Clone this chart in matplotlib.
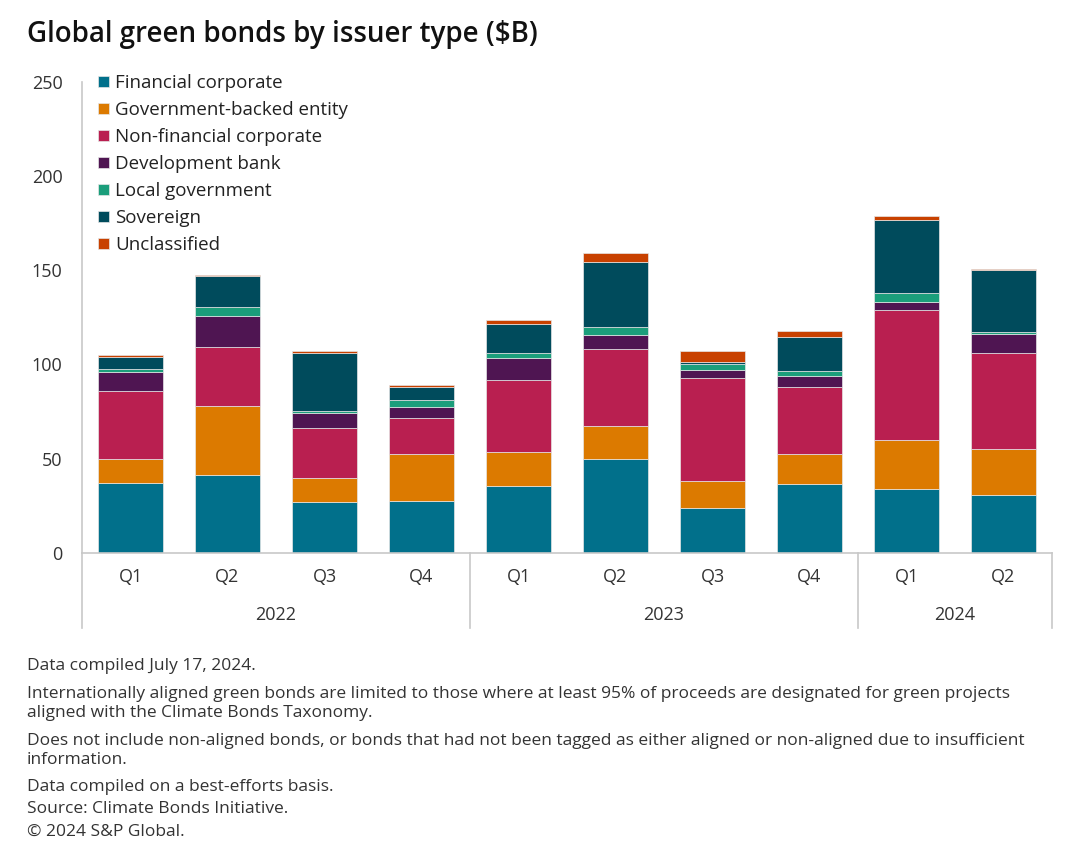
import matplotlib
matplotlib.use("Agg")
import matplotlib.pyplot as plt
import matplotlib.transforms as mtransforms
import numpy as np

plt.rcParams['font.family'] = ['Open Sans', 'DejaVu Sans']

quarters = ["Q1", "Q2", "Q3", "Q4", "Q1", "Q2", "Q3", "Q4", "Q1", "Q2"]
years = ["2022", "2023", "2024"]
year_groups = [4, 4, 2]

series_names = ["Financial corporate", "Government-backed entity", "Non-financial corporate",
                "Development bank", "Local government", "Sovereign", "Unclassified"]

financial_corporate = [37.2, 41.2, 26.7, 27.4, 35.4, 49.7, 23.9, 36.5, 33.7, 30.6]
government_backed   = [12.4, 36.8, 12.8, 25.1, 18.2, 17.7, 14.2, 15.7, 26.1, 24.3]
non_financial_corp  = [36.4, 31.0, 26.7, 19.2, 38.1, 40.6, 54.5, 35.9, 69.0, 50.9]
development_bank    = [10.1, 16.8,  8.1,  5.6, 11.5,  7.6,  4.4,  5.8,  4.1, 10.1]
local_government    = [ 1.2,  4.5,  0.9,  3.6,  3.0,  4.0,  3.2,  2.4,  4.8,  1.4]
sovereign           = [ 6.7, 16.4, 30.6,  7.2, 15.0, 34.9,  1.2, 18.3, 38.9, 32.8]
unclassified        = [ 1.1,  0.5,  1.1,  0.7,  2.3,  4.7,  5.7,  3.1,  2.3,  0.3]

series = [financial_corporate, government_backed, non_financial_corp, development_bank,
          local_government, sovereign, unclassified]
colors = ["#01708b", "#dc7a00", "#b91f50", "#4f1552", "#1b9e7b", "#004b5c", "#c84100"]

yticks = [0, 50, 100, 150, 200, 250]

fig = plt.figure(figsize=(10.88, 8.64), dpi=100)
ax = fig.add_axes([82/1088, 1-552.7/864, 970/1088, 471/864])

x = np.arange(len(quarters))
bottom = np.zeros(len(quarters))
for name, vals, c in zip(series_names, series, colors):
    v = np.array(vals)
    ax.bar(x, v, bottom=bottom, width=0.67, color=c, label=name,
           edgecolor="#e6e6e6", linewidth=0.5)
    bottom += v

ax.set_xlim(-0.5, len(quarters) - 0.5)
ax.set_ylim(0, 250)
ax.set_yticks(yticks)
ax.set_yticklabels([str(t) for t in yticks], fontsize=13, color="#333333")
ax.tick_params(axis='y', length=0, pad=14)
ax.set_xticks(x)
ax.set_xticklabels(quarters, fontsize=13, color="#333333")
ax.tick_params(axis='x', length=0, pad=11)

for s in ["top", "right"]:
    ax.spines[s].set_visible(False)
for s in ["left", "bottom"]:
    ax.spines[s].set_color("#c8c8c8")
    ax.spines[s].set_linewidth(1.2)

trans = mtransforms.blended_transform_factory(ax.transData, ax.transAxes)
sep_depth = -(628 - 552.7) / 471
start = 0
bounds = [-0.5]
for yr, n in zip(years, year_groups):
    center = start + (n - 1) / 2
    ax.text(center, -(615 - 552.7) / 471, yr, transform=trans, ha="center", va="center",
            fontsize=13, color="#333333")
    start += n
    bounds.append(start - 0.5)
for b in bounds:
    ax.plot([b, b], [0, sep_depth], transform=trans, color="#c8c8c8", lw=1.2, clip_on=False)

leg = ax.legend(loc="upper left", bbox_to_anchor=(0.011, 1.028), frameon=False, fontsize=13.5,
                handlelength=0.55, handleheight=0.55, handletextpad=0.35, labelspacing=0.48,
                borderaxespad=0.0, borderpad=0.3)
for t in leg.get_texts():
    t.set_color("#222222")

fig.text(27/1088, 1 - 42/864, "Global green bonds by issuer type ($B)", fontsize=20,
         color="#111111", va="baseline", ha="left", fontweight="semibold")

notes = [
    ("Data compiled July 17, 2024.", 670),
    ("Internationally aligned green bonds are limited to those where at least 95% of proceeds are designated for green projects", 698),
    ("aligned with the Climate Bonds Taxonomy.", 717),
    ("Does not include non-aligned bonds, or bonds that had not been tagged as either aligned or non-aligned due to insufficient", 745),
    ("information.", 764),
    ("Data compiled on a best-efforts basis.", 791),
    ("Source: Climate Bonds Initiative.", 813),
    ("\u00a9 2024 S&P Global.", 836),
]
for txt, yb in notes:
    fig.text(27/1088, 1 - yb/864, txt, fontsize=12.5, color="#333333", va="baseline", ha="left")

fig.savefig("out.png", dpi=100)
